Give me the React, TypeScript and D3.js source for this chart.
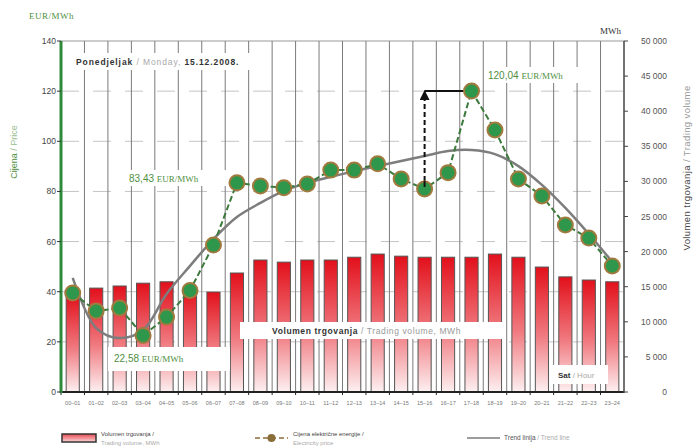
import * as d3 from "d3";

const hours = [
  "00–01", "01–02", "02–03", "03–04", "04–05", "05–06", "06–07", "07–08",
  "08–09", "09–10", "10–11", "11–12", "12–13", "13–14", "14–15", "15–16",
  "16–17", "17–18", "18–19", "19–20", "20–21", "21–22", "22–23", "23–24",
];

// trading volume, MWh (right axis)
const volume = [
  13800, 14800, 15100, 15500, 15700, 14500, 14250, 16950, 18800, 18500, 18800,
  18800, 19200, 19650, 19350, 19200, 19200, 19200, 19650, 19200, 17800, 16400,
  15950, 15700,
];

// electricity price, EUR/MWh (left axis)
const price = [
  39.5, 32.3, 33.5, 22.58, 29.9, 40.5, 58.6, 83.43, 82.2, 81.5, 83.0, 88.5,
  88.5, 91.0, 85.0, 81.0, 87.5, 120.04, 104.5, 85.0, 78.2, 66.6, 61.4, 50.3,
];

// trend line
const trend = [
  45.5, 25.5, 21.5, 24.7, 39.1, 50.3, 61.0, 69.8, 75.4, 80.2, 83.4, 85.8, 88.1,
  90.1, 92.1, 94.1, 96.1, 96.5, 94.9, 90.1, 82.6, 73.4, 63.0, 51.9,
];

const priceTicks = [0, 20, 40, 60, 80, 100, 120, 140];
const volumeTicks = [0, 5000, 10000, 15000, 20000, 25000, 30000, 35000, 40000, 45000, 50000];

const W = 695;
const H = 447;
const left = 61;
const right = 624;
const top = 41;
const bottom = 392;

const GREEN = "#4f8f3f";
const SANS = "'Liberation Sans', Arial, sans-serif";
const SERIF = "'Liberation Serif', 'DejaVu Serif', serif";

export default function App() {
  const x = d3.scaleBand<string>().domain(hours).range([left, right]);
  const yL = d3.scaleLinear().domain([0, 140]).range([bottom, top]);
  const yR = d3.scaleLinear().domain([0, 50000]).range([bottom, top]);
  const cx = (i: number) => (x(hours[i]) ?? 0) + x.bandwidth() / 2;
  const barW = x.bandwidth() * 0.56;

  const priceLine = d3
    .line<number>()
    .x((_, i) => cx(i))
    .y((d) => yL(d));
  const trendLine = d3
    .line<number>()
    .x((_, i) => cx(i))
    .y((d) => yL(d))
    .curve(d3.curveCatmullRom.alpha(0.5));

  const fmt = (v: number) => (v === 0 ? "0" : d3.format(",")(v).replace(",", " "));

  const minIdx = 15;
  const maxIdx = 17;
  const arrowX = cx(minIdx);
  const peakY = yL(price[maxIdx]);

  return (
    <svg
      width={W}
      height={H}
      style={{ position: "absolute", left: 0, top: 0, background: "#fff" }}
      fontFamily={SANS}
    >
      <defs>
        <linearGradient id="barGrad" x1="0" y1="0" x2="0" y2="1">
          <stop offset="0" stopColor="#e2101b" />
          <stop offset="0.55" stopColor="#f07a80" />
          <stop offset="1" stopColor="#fdf0f1" />
        </linearGradient>
        <linearGradient id="legGrad" x1="0" y1="0" x2="0" y2="1">
          <stop offset="0" stopColor="#e84a52" />
          <stop offset="1" stopColor="#fbd6d8" />
        </linearGradient>
        <marker id="arrowHead" viewBox="0 0 10 10" refX="5" refY="5" markerWidth="5" markerHeight="5" orient="auto">
          <path d="M0,0 L10,5 L0,10 z" fill="#111" />
        </marker>
      </defs>
      <rect width={W} height={H} fill="#fff" />

      {/* horizontal dashed grid */}
      {priceTicks.slice(1).map((t) => (
        <line
          key={t}
          x1={left}
          x2={right}
          y1={yL(t)}
          y2={yL(t)}
          stroke={t === 140 ? "#999" : "#c4c4c4"}
          strokeWidth={1}
          strokeDasharray={t === 140 ? undefined : "18,14"}
        />
      ))}

      {/* vertical grid at hour boundaries */}
      {hours.slice(1).map((h) => (
        <line key={h} x1={x(h)} x2={x(h)} y1={top} y2={bottom} stroke="#7a7a7a" strokeWidth={1} />
      ))}

      {/* volume bars */}
      {volume.map((v, i) => (
        <rect
          key={i}
          x={cx(i) - barW / 2}
          y={yR(v)}
          width={barW}
          height={bottom - yR(v)}
          fill="url(#barGrad)"
          stroke="#555"
          strokeWidth={1}
        />
      ))}

      {/* label boxes */}
      <rect x={72} y={53} width={190} height={17} fill="#fff" />
      <text x={76} y={65} fontSize={8.5} fontWeight="bold" fill="#333" letterSpacing={0.9}>
        Ponedjeljak <tspan fontWeight="normal" fill="#aaa">/ Monday, </tspan>
        <tspan>15.12.2008.</tspan>
      </text>

      <rect x={240} y={322} width={265} height={17} fill="#fff" />
      <text x={272} y={334} fontSize={8.5} fontWeight="bold" fill="#333" letterSpacing={0.6}>
        Volumen trgovanja <tspan fontWeight="normal" fill="#999">/ Trading volume, MWh</tspan>
      </text>

      <rect x={550} y={365} width={58} height={19} fill="#fff" />
      <text x={558} y={378} fontSize={8} fontWeight="bold" fill="#333">
        Sat <tspan fontWeight="normal" fill="#aaa">/ Hour</tspan>
      </text>

      <rect x={108} y={347} width={122} height={24} fill="#fff" />
      <text x={114} y={362} fontSize={10} fill={GREEN}>
        22,58 <tspan fontFamily={SERIF} fontSize={9}>EUR/MWh</tspan>
      </text>

      <rect x={127} y={170} width={104} height={16} fill="#fff" />
      <text x={129} y={182} fontSize={10} fill={GREEN}>
        83,43 <tspan fontFamily={SERIF} fontSize={9}>EUR/MWh</tspan>
      </text>

      <rect x={486} y={67} width={104} height={16} fill="#fff" />
      <text x={488} y={79} fontSize={10} fill={GREEN}>
        120,04 <tspan fontFamily={SERIF} fontSize={9}>EUR/MWh</tspan>
      </text>

      {/* trend line */}
      <path d={trendLine(trend) ?? ""} fill="none" stroke="#7d7d7d" strokeWidth={2.5} />

      {/* min-to-max arrow */}
      <line x1={arrowX} x2={cx(maxIdx)} y1={peakY} y2={peakY} stroke="#111" strokeWidth={2} />
      <line
        x1={arrowX}
        x2={arrowX}
        y1={yL(price[minIdx])}
        y2={peakY + 4}
        stroke="#111"
        strokeWidth={2}
        strokeDasharray="5,3"
        markerEnd="url(#arrowHead)"
      />

      {/* price line */}
      <path d={priceLine(price) ?? ""} fill="none" stroke="#3d7a3d" strokeWidth={2} strokeDasharray="6,3" />
      {price.map((p, i) => (
        <circle key={i} cx={cx(i)} cy={yL(p)} r={7.5} fill="#2f974b" stroke="#a07a3e" strokeWidth={2} />
      ))}
      <line x1={arrowX} x2={arrowX} y1={yL(price[minIdx]) - 2} y2={yL(price[minIdx]) - 8} stroke="#111" strokeWidth={2} />

      {/* axes */}
      <line x1={left} x2={right} y1={bottom} y2={bottom} stroke="#222" strokeWidth={2} />
      {hours.map((h) => (
        <line key={h} x1={x(h)} x2={x(h)} y1={bottom} y2={bottom + 3} stroke="#222" strokeWidth={1} />
      ))}
      <line x1={right} x2={right} y1={top} y2={bottom + 1} stroke="#444" strokeWidth={1.5} />
      <line x1={left} x2={left} y1={top} y2={bottom + 1} stroke="#2f8a3a" strokeWidth={3} />

      {priceTicks.map((t) => (
        <g key={t}>
          <line x1={left - 4} x2={left} y1={yL(t)} y2={yL(t)} stroke="#333" />
          <text x={left - 5} y={yL(t) + 3} fontSize={8.5} textAnchor="end" fill="#444">
            {t}
          </text>
        </g>
      ))}
      {volumeTicks.map((t) => (
        <g key={t}>
          <line x1={right} x2={right + 4} y1={yR(t)} y2={yR(t)} stroke="#444" />
          <text x={667} y={yR(t) + 3} fontSize={8.5} textAnchor="end" fill="#555">
            {fmt(t)}
          </text>
        </g>
      ))}
      {hours.map((h, i) => (
        <text key={h} x={cx(i)} y={405} fontSize={5.5} textAnchor="middle" fill="#777">
          {h}
        </text>
      ))}

      {/* axis titles */}
      <text x={29} y={19} fontSize={9} fontFamily={SERIF} fill={GREEN} letterSpacing={0.5}>
        EUR/MWh
      </text>
      <text x={600} y={34} fontSize={9} fontFamily={SERIF} fill="#333">
        MWh
      </text>
      <text transform="translate(17,152) rotate(-90)" fontSize={9} textAnchor="middle" fill={GREEN}>
        Cijena <tspan fill="#9bc08f">/ Price</tspan>
      </text>
      <text transform="translate(690,168) rotate(-90)" fontSize={9.5} textAnchor="middle" fill="#444" letterSpacing={0.4}>
        Volumen trgovanja <tspan fill="#999">/ Trading volume</tspan>
      </text>

      {/* legend */}
      <rect x={62} y={434} width={34} height={8} fill="url(#legGrad)" stroke="#333" strokeWidth={1.5} />
      <text x={101} y={436} fontSize={6} fill="#444">
        Volumen trgovanja /
      </text>
      <text x={101} y={445} fontSize={6} fill="#aaa">
        Trading volume, MWh
      </text>

      <line x1={255} x2={288} y1={438} y2={438} stroke="#8a6e3a" strokeWidth={1.5} strokeDasharray="5,3" />
      <circle cx={271.5} cy={438} r={4} fill="#8a6e3a" />
      <text x={293} y={436} fontSize={6} fill="#444">
        Cijena električne energije /
      </text>
      <text x={293} y={445} fontSize={6} fill="#aaa">
        Electricity price
      </text>

      <line x1={467} x2={500} y1={438} y2={438} stroke="#7d7d7d" strokeWidth={1.5} />
      <text x={504} y={440} fontSize={6.5} fill="#555">
        Trend linija <tspan fill="#aaa">/ Trend line</tspan>
      </text>
    </svg>
  );
}
